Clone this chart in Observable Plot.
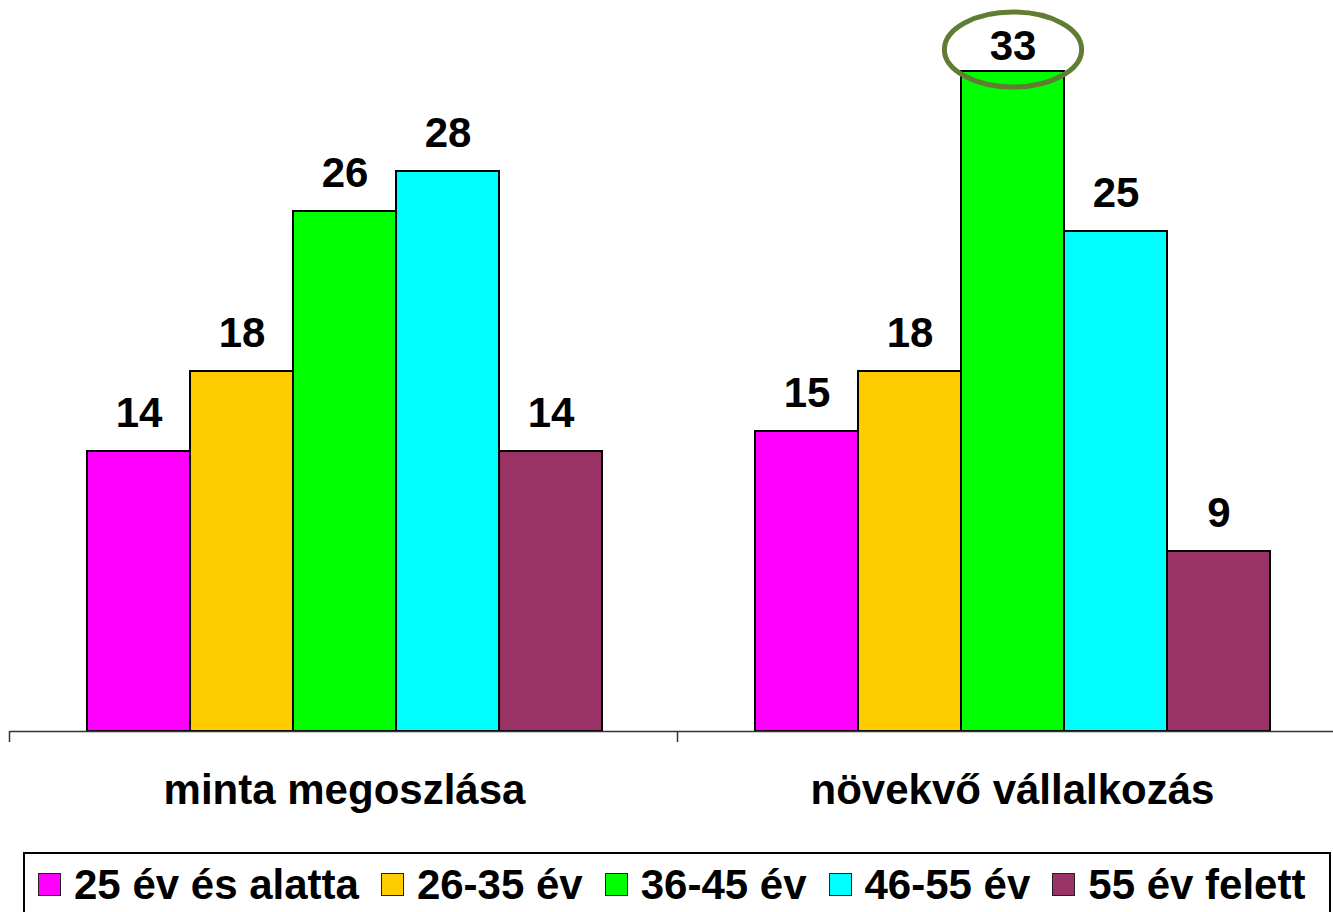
<!DOCTYPE html>
<html>
<head>
<meta charset="utf-8">
<script src="https://cdn.jsdelivr.net/npm/d3@7"></script>
<script src="https://cdn.jsdelivr.net/npm/@observablehq/plot@0.6"></script>
<style>
  html, body { margin: 0; padding: 0; background: #fff; overflow: hidden; }
  body { width: 1333px; height: 912px; position: relative; font-family: "Liberation Sans", Arial, sans-serif; }
  #chart { position: absolute; left: 0; top: 0; width: 1346px; }
  #chart svg { max-width: none !important; }
  #legend {
    position: absolute; left: 23px; top: 852px; width: 1308px; height: 68px;
    border: 2px solid #000; box-sizing: border-box; background: #fff;
    display: flex; align-items: center; padding-left: 13px; padding-bottom: 3px;
    font-weight: bold; font-size: 42px; color: #000; white-space: nowrap;
  }
  .item { display: flex; align-items: center; margin-right: 22px; }
  .sw { width: 21px; height: 21px; border: 1.5px solid #222; margin-right: 13px; }
</style>
</head>
<body>
<div id="chart"></div>
<div id="legend"></div>
<script>
const groups = ["minta megoszlása", "növekvő vállalkozás"];
const ages = ["25 év és alatta", "26-35 év", "36-45 év", "46-55 év", "55 év felett"];
const mintaValues = [14, 18, 26, 28, 14];
const novekvoValues = [15, 18, 33, 25, 9];
const ageColors = ["#FF00FF", "#FFCC00", "#00FF00", "#00FFFF", "#993366"];

const data = [];
ages.forEach((a, i) => data.push({group: groups[0], age: a, value: mintaValues[i]}));
ages.forEach((a, i) => data.push({group: groups[1], age: a, value: novekvoValues[i]}));

const maxValue = d3.max(data, d => d.value);
const highlighted = data.filter(d => d.value === maxValue);

// ellipse symbol (wider than tall)
const ellipse = {
  draw(context, size) {
    const ry = Math.sqrt(size / Math.PI);
    const rx = ry * 1.83;
    const k = 0.5523;
    context.moveTo(rx, 0);
    context.bezierCurveTo(rx, k * ry, k * rx, ry, 0, ry);
    context.bezierCurveTo(-k * rx, ry, -rx, k * ry, -rx, 0);
    context.bezierCurveTo(-rx, -k * ry, -k * rx, -ry, 0, -ry);
    context.bezierCurveTo(k * rx, -ry, rx, -k * ry, rx, 0);
    context.closePath();
  }
};

const font = "Liberation Sans, Arial, sans-serif";

const chart = Plot.plot({
  width: 1346,
  height: 845,
  marginLeft: 10,
  marginRight: 0,
  marginTop: 0,
  marginBottom: 114,
  style: {fontFamily: font, background: "transparent", overflow: "visible", maxWidth: "none"},
  fx: {domain: groups, padding: 0, axis: null},
  x: {domain: ages, paddingInner: 0, paddingOuter: 0.72, axis: null},
  y: {domain: [0, 36.55], axis: null},
  color: {domain: ages, range: ageColors},
  marks: [
    Plot.barY(data, {fx: "group", x: "age", y: "value", fill: "age", stroke: "#000", strokeWidth: 2}),
    Plot.ruleY([0], {stroke: "#333", strokeWidth: 1.5}),
    Plot.ruleX(groups, {fx: d => d, x: () => ages[0], y1: 0, y2: -0.55, dx: -129.5, stroke: "#333", strokeWidth: 1.5}),
    Plot.text(data.filter(d => d.value !== maxValue), {fx: "group", x: "age", y: "value", text: d => String(d.value), dy: -38, fontSize: 42, fontWeight: "bold", fill: "#000"}),
    Plot.text(highlighted, {fx: "group", x: "age", y: "value", text: d => String(d.value), dy: -25, fontSize: 42, fontWeight: "bold", fill: "#000"}),
    Plot.dot(highlighted, {fx: "group", x: "age", y: "value", r: 37.5, symbol: ellipse, dy: -22, fill: "none", stroke: "#617D34", strokeWidth: 5}),
    Plot.text(groups, {fx: d => d, text: d => d, frameAnchor: "bottom", dy: 72, fontSize: 42, fontWeight: "bold", fill: "#000"})
  ]
});
document.getElementById("chart").appendChild(chart);

const legend = document.getElementById("legend");
ages.forEach((a, i) => {
  const item = document.createElement("div");
  item.className = "item";
  const sw = document.createElement("span");
  sw.className = "sw";
  sw.style.background = ageColors[i];
  const t = document.createElement("span");
  t.textContent = a;
  item.appendChild(sw);
  item.appendChild(t);
  legend.appendChild(item);
});
</script>
</body>
</html>
